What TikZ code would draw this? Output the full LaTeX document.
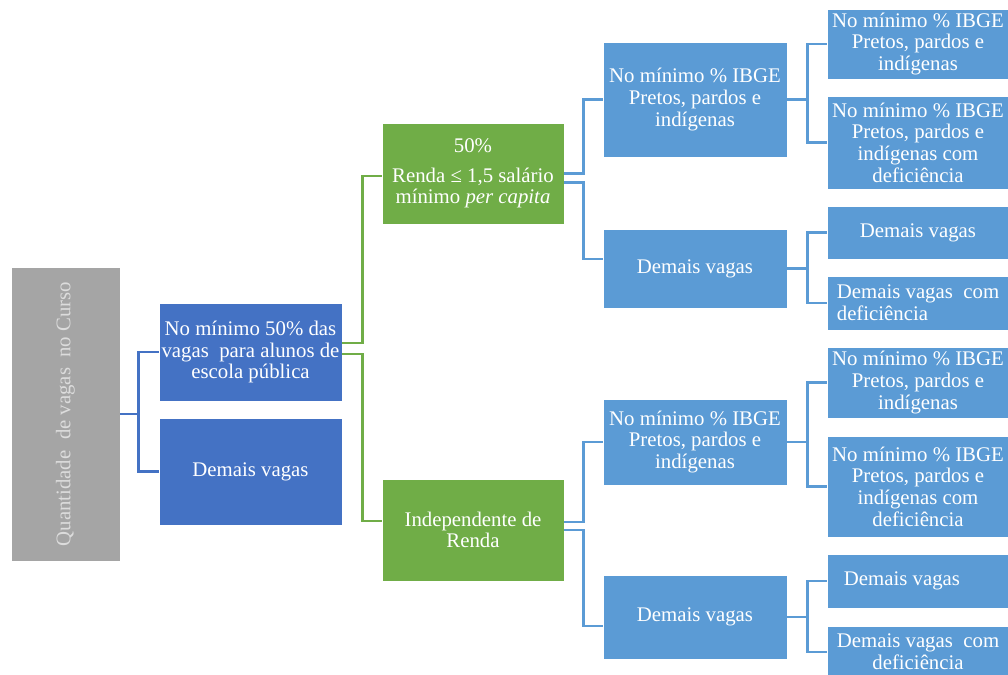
\documentclass[tikz,border=0pt]{standalone}
\usepackage{fontspec}
\setmainfont{Liberation Serif}
\definecolor{dkblue}{HTML}{4472C4}
\definecolor{ltblue}{HTML}{5B9BD5}
\definecolor{grn}{HTML}{70AD47}
\definecolor{gry}{HTML}{A5A5A5}
\definecolor{gtxt}{HTML}{DCDCDC}
\begin{document}
\begin{tikzpicture}[x=1pt,y=-1pt,
  box/.style={draw=white,line width=0.6pt,inner sep=0pt,text=white,align=center,
              font=\fontsize{20.8}{21.7}\selectfont},
  dbox/.style={box,fill=dkblue},
  gbox/.style={box,fill=grn},
  lbox/.style={box,fill=ltblue},
  conn/.style={line width=2.8pt},
  dconn/.style={conn,draw=dkblue},
  gconn/.style={conn,draw=grn},
  lconn/.style={conn,draw=ltblue}]
\useasboundingbox (0,0) rectangle (1008,674);
\clip (0,0) rectangle (1008,674);

% level 0
\node[box,fill=gry,text=gtxt,minimum width=109pt,minimum height=294pt] (q) at (65.5,414)
  {\rotatebox{90}{Quantidade\ \ de vagas\ \ no Curso}};

% level 1
\node[dbox,minimum width=183pt,minimum height=98pt] (d1) at (250.5,352)
  {No mínimo 50\% das\\vagas\ \ para alunos de\\escola pública};
\node[dbox,minimum width=183pt,minimum height=107pt] (d2) at (250.5,471.5) {Demais vagas};

% level 2
\node[gbox,minimum width=182pt,minimum height=101pt] (g1) at (473,173.5)
  {50\%\\[8pt]Renda ≤ 1,5 salário\\mínimo \textit{per capita}};
\node[gbox,minimum width=182pt,minimum height=102pt] (g2) at (473,530)
  {Independente de\\Renda};

% level 3
\node[lbox,minimum width=184pt,minimum height=115pt] (t1) at (695,99.5)
  {No mínimo \% IBGE\\Pretos, pardos e\\indígenas};
\node[lbox,minimum width=184pt,minimum height=79pt] (t2) at (695,268.5) {Demais vagas};
\node[lbox,minimum width=184pt,minimum height=86pt] (b1) at (695,442)
  {No mínimo \% IBGE\\Pretos, pardos e\\indígenas};
\node[lbox,minimum width=184pt,minimum height=84pt] (b2) at (695,617) {Demais vagas};

% level 4
\node[lbox,minimum width=182pt,minimum height=70pt] (ta) at (918,44)
  {No mínimo \% IBGE\\Pretos, pardos e\\indígenas};
\node[lbox,minimum width=182pt,minimum height=93pt] (tb) at (918,142.5)
  {No mínimo \% IBGE\\Pretos, pardos e\\indígenas com\\deficiência};
\node[lbox,minimum width=182pt,minimum height=53pt] (tc) at (918,232.5) {Demais vagas};
\node[lbox,minimum width=182pt,minimum height=54pt,align=left] (td) at (918,303)
  {Demais vagas\ \ com\\ deficiência};
\node[lbox,minimum width=182pt,minimum height=71pt] (ba) at (918,382.5)
  {No mínimo \% IBGE\\Pretos, pardos e\\indígenas};
\node[lbox,minimum width=182pt,minimum height=101pt] (bb) at (918,486.5)
  {No mínimo \% IBGE\\Pretos, pardos e\\indígenas com\\deficiência};
\node[lbox,minimum width=182pt,minimum height=54pt] (bc) at (918,581) {Demais vagas\hspace*{32pt}};
\node[lbox,minimum width=182pt,minimum height=52pt] (bd) at (918,652)
  {Demais vagas\ \ com\\deficiência};

% connectors
\draw[dconn] (q.east) -- ++(18,0) |- (d1.west);
\draw[dconn] (q.east) -- ++(18,0) |- (d2.west);

\draw[gconn] ([yshift=9pt]d1.east) -- ++(20,0) |- ([yshift=-2.5pt]g1.west);
\draw[gconn] ([yshift=-2pt]d1.east) -- ++(20,0) |- ([yshift=9pt]g2.west);

\draw[lconn] (g1.east) -- ++(19,0) |- (t1.west);
\draw[lconn] ([yshift=-9pt]g1.east) -- ++(19,0) |- ([yshift=9.5pt]t2.west);
\draw[lconn] ([yshift=8pt]g2.east) -- ++(19,0) |- (b1.west);
\draw[lconn] (g2.east) -- ++(19,0) |- ([yshift=-9pt]b2.west);

\draw[lconn] (t1.east) -- ++(20,0) |- (ta.west);
\draw[lconn] (t1.east) -- ++(20,0) |- (tb.west);
\draw[lconn] (t2.east) -- ++(20,0) |- (tc.west);
\draw[lconn] (t2.east) -- ++(20,0) |- (td.west);
\draw[lconn] (b1.east) -- ++(20,0) |- (ba.west);
\draw[lconn] (b1.east) -- ++(20,0) |- (bb.west);
\draw[lconn] (b2.east) -- ++(20,0) |- (bc.west);
\draw[lconn] (b2.east) -- ++(20,0) |- (bd.west);
\end{tikzpicture}
\end{document}
